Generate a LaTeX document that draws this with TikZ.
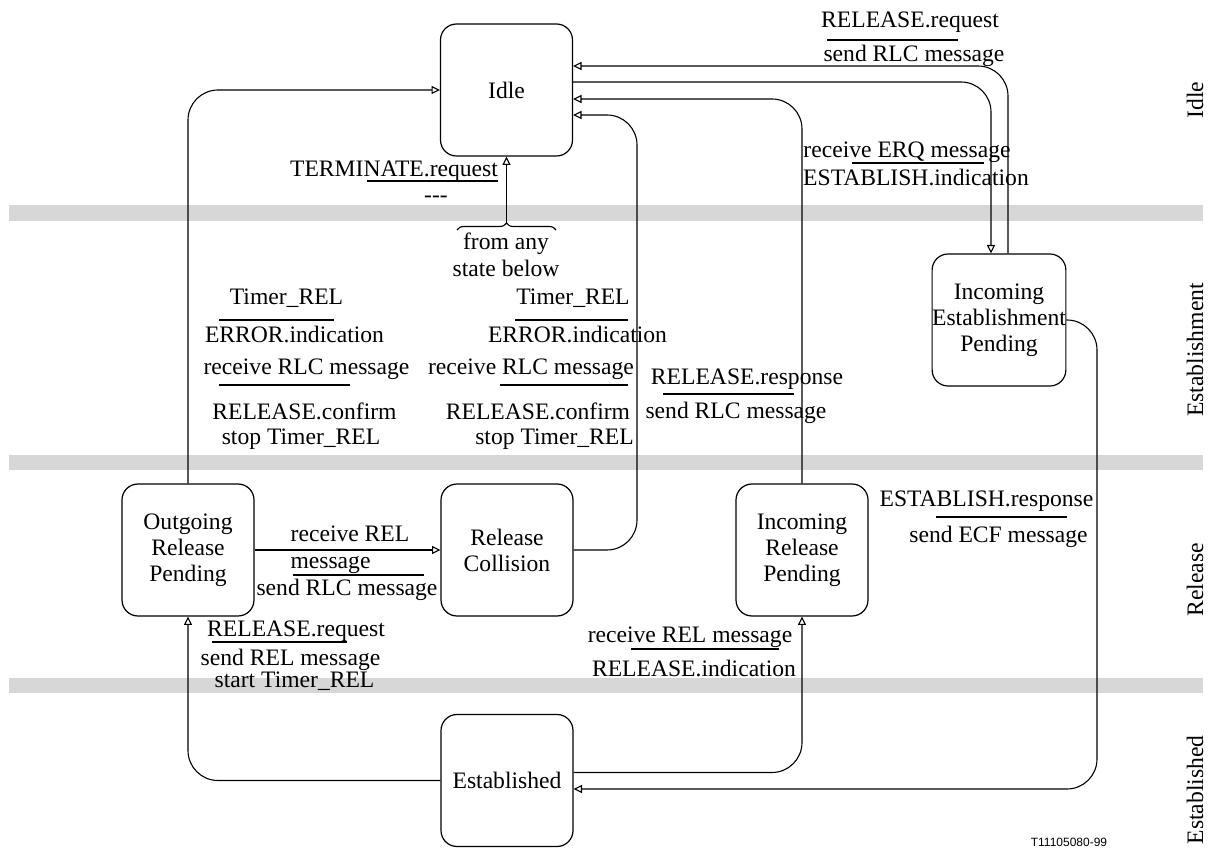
\documentclass[tikz,border=0pt]{standalone}
\usepackage{fontspec}
\setmainfont{Liberation Serif}
\newfontfamily\tagfont{Liberation Sans}
\usetikzlibrary{arrows.meta,decorations.pathreplacing}
\definecolor{bandgray}{RGB}{215,215,215}
\newcommand\lblfont{\fontsize{11.8}{13}\selectfont}
\tikzset{
	state/.style={draw, line width=0.6pt, rounded corners=8pt, minimum width=66pt, minimum height=66pt, inner sep=0pt, align=center, font=\lblfont},
	tr/.style={line width=0.55pt, -{Triangle[open,length=4.2pt,width=4pt]}, rounded corners=15pt},
	lbl/.style={anchor=base, inner sep=0pt, font=\lblfont},
	side/.style={rotate=90, inner sep=0pt, font=\lblfont},
	rule/.style={line width=0.55pt},
	band/.style={fill=bandgray, draw=none}
}
\begin{document}
\begin{tikzpicture}[x=0.5pt,y=-0.5pt]
	\useasboundingbox (0,0) rectangle (1212,850);
	%bands
	\fill[band] (9,205) rectangle (1203,221);
	\fill[band] (9,455) rectangle (1203,470);
	\fill[band] (9,678) rectangle (1203,693);
	\node[side] (sidle) at (1195,100) {Idle};
	\node[side] (sestab) at (1195,350) {Establishment};
	\node[side] (srel) at (1195,580) {Release};
	\node[side] (sest) at (1195,790) {Established};
	%states
	\node[state] (idle) at (506.5,90) {Idle};
	\node[state] (iep) at (999,320) {Incoming\\Establishment\\Pending};
	\node[state] (orp) at (188,550) {Outgoing\\Release\\Pending};
	\node[state] (rc) at (507,550) {Release\\Collision};
	\node[state] (irp) at (802,550) {Incoming\\Release\\Pending};
	\node[state] (est) at (507,780.5) {Established};
	%transitions
	\coordinate (rcturn) at (637,115);
	\coordinate (ecfdown) at (1097,789);
	\coordinate (anyst) at (506.5,223);
	\draw[tr] (orp.north) |- (idle.west);
	\draw[tr] (rc.east) -| (rcturn) -- ([yshift=-12.5pt]idle.east);
	\draw[tr] (irp.north) |- ([yshift=-4.5pt]idle.east);
	\draw[tr] ([yshift=4pt]idle.east) -| ([xshift=-4pt]iep.north);
	\draw[tr] ([xshift=4.5pt]iep.north) |- ([yshift=12pt]idle.east);
	\draw[tr] (iep.east) -| (ecfdown) -- ([yshift=-4.25pt]est.east);
	\draw[tr] ([yshift=4pt]est.east) -| (irp.south);
	\draw[tr] (est.west) -| (orp.south);
	\draw[tr] (orp.east) -- (rc.west);
	\draw[tr] (anyst) -- (idle.south);
	\draw[rule, decorate, decoration={brace, amplitude=3.5pt}] (457,230) -- (556,230);
	%labels orp to idle
	\node[lbl] (ta1) at (286.5,305) {Timer\_REL};
	\node[lbl] (ta2) at (294.5,343) {ERROR.indication};
	\node[lbl] (ta3) at (306.5,375) {receive RLC message};
	\node[lbl] (ta4) at (304.5,420) {RELEASE.confirm};
	\node[lbl] (ta5) at (301,445) {stop Timer\_REL};
	\draw[rule] (219,320) -- (334,320);
	\draw[rule] (219,385) -- (350,385);
	%labels rc to idle
	\node[lbl] (tb1) at (573,305) {Timer\_REL};
	\node[lbl] (tb2) at (577.5,343) {ERROR.indication};
	\node[lbl] (tb3) at (531,375) {receive RLC message};
	\node[lbl] (tb4) at (538,420) {RELEASE.confirm};
	\node[lbl] (tb5) at (554.5,445) {stop Timer\_REL};
	\draw[rule] (515,320) -- (628,320);
	\draw[rule] (500,385) -- (628,385);
	%labels irp to idle
	\node[lbl] (tc1) at (747,385) {RELEASE.response};
	\node[lbl] (tc2) at (736,419) {send RLC message};
	\draw[rule] (663,394) -- (794,394);
	%labels idle to iep
	\node[lbl] (td1) at (907,158) {receive ERQ message};
	\node[lbl] (td2) at (916,186) {ESTABLISH.indication};
	\draw[rule] (852,163) -- (984,163);
	%labels iep to idle
	\node[lbl] (te1) at (910,28) {RELEASE.request};
	\node[lbl] (te2) at (914,62) {send RLC message};
	\draw[rule] (827,40) -- (958,40);
	%labels iep to est
	\node[lbl] (tf1) at (986.5,507) {ESTABLISH.response};
	\node[lbl] (tf2) at (998.5,543) {send ECF message};
	\draw[rule] (936,517) -- (1067,517);
	%labels est to irp
	\node[lbl] (tg1) at (690,643) {receive REL message};
	\node[lbl] (tg2) at (694,676) {RELEASE.indication};
	\draw[rule] (631,649) -- (779,649);
	%labels est to orp
	\node[lbl] (th1) at (296,637) {RELEASE.request};
	\node[lbl] (th2) at (290.5,665) {send REL message};
	\node[lbl] (th3) at (294.5,688) {start Timer\_REL};
	\draw[rule] (212,642) -- (347,642);
	%labels orp to rc
	\node[lbl] (ti1) at (350,542) {receive REL};
	\node[lbl] (ti2) at (330.5,568) {message};
	\node[lbl] (ti3) at (347,596) {send RLC message};
	\draw[rule] (293,575) -- (424,575);
	%terminate
	\node[lbl] (tj1) at (394,177) {TERMINATE.request};
	\node[lbl] (tj2) at (436,203) {-{}-{}-};
	\draw[rule] (367,181) -- (498,181);
	\node[lbl] (tk1) at (506,250) {from any};
	\node[lbl] (tk2) at (506,277) {state below};
	%figure number
	\node[font=\tagfont\fontsize{6}{7}\selectfont, inner sep=0pt] (fig) at (1069,842) {T11105080-99};
\end{tikzpicture}
\end{document}
